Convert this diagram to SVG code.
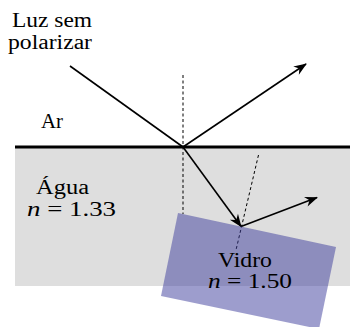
<svg xmlns="http://www.w3.org/2000/svg" width="350" height="327" viewBox="0 0 350 327">
  <style>
    text { font-family: 'Liberation Serif', 'DejaVu Serif', serif; font-size: 20.5px; fill: #000; }
    .ray { stroke: #000; stroke-width: 1.6; fill: none; }
    .dash { stroke: #000; stroke-width: 1; stroke-dasharray: 3 2.5; fill: none; }
    .it { font-style: italic; }
  </style>
  <defs>
    <marker id="arr" markerUnits="userSpaceOnUse" markerWidth="16" markerHeight="12" viewBox="-14 -6 16 12" refX="0" refY="0" orient="auto">
      <path d="M1,0 L-12,-5 L-8,0 L-12,5 Z" fill="#000"/>
    </marker>
  </defs>
  <rect width="350" height="327" fill="#fff"/>
  <g id="agua">
    <rect x="15" y="147" width="335" height="139" fill="#dedede"/>
  </g>
  <g id="superficie">
    <line x1="15" y1="147" x2="350" y2="147" stroke="#000" stroke-width="3"/>
  </g>
  <g id="connectors">
    <line class="dash" x1="183" y1="75" x2="183" y2="214"/>
    <line class="dash" x1="258.5" y1="155" x2="236" y2="250"/>
    <line class="ray" x1="70" y1="66" x2="183" y2="147"/>
    <line class="ray" x1="183" y1="147" x2="306" y2="64" marker-end="url(#arr)"/>
    <line class="ray" x1="183" y1="147" x2="241" y2="226.5" marker-end="url(#arr)"/>
    <line class="ray" x1="241" y1="226.5" x2="317" y2="197.5" marker-end="url(#arr)"/>
  </g>
  <g id="vidro">
    <polygon points="178,213 336,247 319,329 161,296" fill="rgb(60,60,155)" fill-opacity="0.5"/>
  </g>
  <g id="texto-luz">
    <text x="52" y="27" text-anchor="middle" textLength="80" lengthAdjust="spacingAndGlyphs">Luz sem</text>
    <text x="50" y="49" text-anchor="middle" textLength="84" lengthAdjust="spacingAndGlyphs">polarizar</text>
  </g>
  <g id="texto-ar">
    <text x="41" y="128" textLength="22" lengthAdjust="spacingAndGlyphs">Ar</text>
  </g>
  <g id="texto-agua">
    <text x="36" y="194" textLength="53" lengthAdjust="spacingAndGlyphs">Água</text>
    <text x="27" y="216" textLength="89" lengthAdjust="spacingAndGlyphs"><tspan class="it">n</tspan> = 1.33</text>
  </g>
  <g id="texto-vidro">
    <text x="218" y="266.5" textLength="54" lengthAdjust="spacingAndGlyphs">Vidro</text>
    <text x="208" y="288" textLength="84" lengthAdjust="spacingAndGlyphs"><tspan class="it">n</tspan> = 1.50</text>
  </g>
</svg>
